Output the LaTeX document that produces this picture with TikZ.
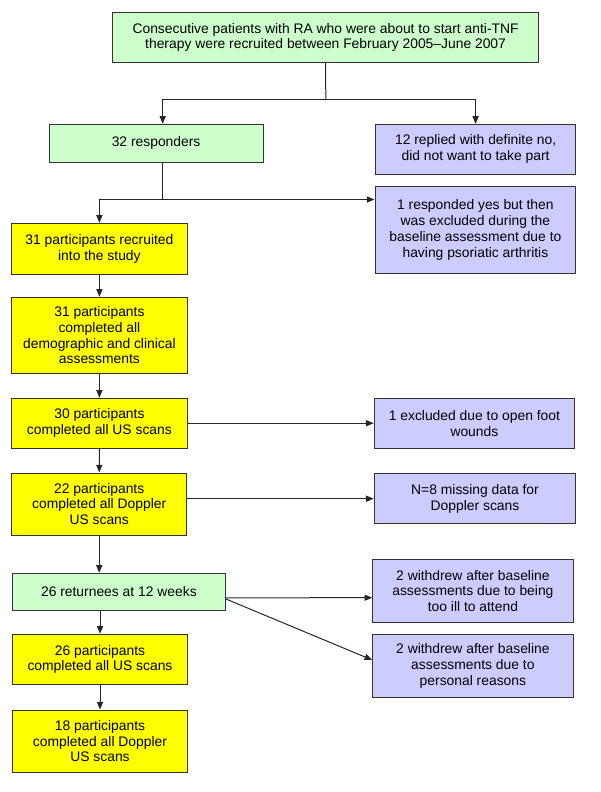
\documentclass[tikz,border=0pt]{standalone}
\usepackage{fontspec}
\setmainfont{Liberation Sans}
\usetikzlibrary{arrows.meta,calc}

\definecolor{verde}{HTML}{CCFFCC}
\definecolor{giallo}{HTML}{FFFF00}
\definecolor{lilla}{HTML}{CCCCFF}

\begin{document}
\begin{tikzpicture}[x=0.75pt,y=-0.75pt,
    box/.style 2 args={draw=black!80, line width=0.75pt, align=center, inner sep=0pt,
        font=\fontsize{10.4}{11.8}\selectfont,
        minimum width=#1*0.75pt, minimum height=#2*0.75pt},
    boxverde/.style 2 args={box={#1}{#2}, fill=verde},
    boxgiallo/.style 2 args={box={#1}{#2}, fill=giallo},
    boxlilla/.style 2 args={box={#1}{#2}, fill=lilla},
    linea/.style={draw=black!85, line width=0.75pt},
    freccia/.style={linea, -{Triangle[length=5.8pt,width=4.6pt]}}]
        \useasboundingbox (0,0) rectangle (600,792);

        % Disegna i riquadri
        \node[boxverde={425.8}{50}] (top) at (325.6,37.3)
            {Consecutive patients with RA who were about to start anti-TNF\\therapy were recruited between February 2005--June 2007};
        \node[boxverde={213.8}{38}] (resp) at (156.1,143.3) {32 responders};
        \node[boxlilla={200.4}{49.7}] (no12) at (475.6,149.2)
            {12 replied with definite no,\\did not want to take part};
        \node[boxlilla={200.8}{87.7}] (excl1) at (475.4,229.9)
            {1 responded yes but then\\was excluded during the\\baseline assessment due to\\having psoriatic arthritis};

        \node[boxgiallo={175.8}{50.7}] (rec31) at (99.4,248.7)
            {31 participants recruited\\into the study};
        \node[boxgiallo={175.8}{76}] (dem31) at (99.4,335.3)
            {31 participants\\completed all\\demographic and clinical\\assessments};
        \node[boxgiallo={175.8}{49.7}] (us30) at (99.4,423.2)
            {30 participants\\completed all US scans};
        \node[boxlilla={200.4}{49.7}] (open1) at (474.4,423.2)
            {1 excluded due to open foot\\wounds};
        \node[boxgiallo={175.4}{62}] (dop22) at (99.2,504)
            {22 participants\\completed all Doppler\\US scans};
        \node[boxlilla={201.6}{50}] (miss8) at (475,498.7)
            {N=8 missing data for\\Doppler scans};

        \node[boxverde={213.1}{37}] (ret26) at (118.9,591.8) {26 returnees at 12 weeks};
        \node[boxlilla={200.3}{63}] (ill2) at (472.9,590.8)
            {2 withdrew after baseline\\assessments due to being\\too ill to attend};
        \node[boxlilla={200.3}{62.7}] (pers2) at (472.9,665.7)
            {2 withdrew after baseline\\assessments due to\\personal reasons};
        \node[boxgiallo={175.4}{50.4}] (us26) at (100,659.5)
            {26 participants\\completed all US scans};
        \node[boxgiallo={175.4}{62.3}] (dop18) at (100,741.2)
            {18 participants\\completed all Doppler\\US scans};

        % Disegna le diramazioni
        \coordinate (split1) at (325.8,99);
        \coordinate (split2) at (162.7,199.5);
        \draw[linea] (top.south) -- (split1);
        \draw[freccia] (split1) -| ($(resp.north)+(6.6,0)$);
        \draw[freccia] (split1) -| (no12.north);
        \draw[linea] ($(resp.south)+(6.6,0)$) -- (split2);
        \draw[freccia] (split2) -| (rec31.north);
        \draw[freccia] (split2) -- (split2 -| excl1.west);

        % Frecce verticali
        \draw[freccia] (rec31) -- (dem31);
        \draw[freccia] (dem31) -- (us30);
        \draw[freccia] (us30) -- (dop22);
        \draw[freccia] (dop22.south) -- (dop22.south |- ret26.north);
        \draw[freccia] (us26.north |- ret26.south) -- (us26.north);
        \draw[freccia] (us26) -- (dop18);

        % Frecce verso destra
        \draw[freccia] (us30) -- (us30 -| open1.west);
        \draw[freccia] (dop22.east |- miss8) -- (miss8.west);
        \draw[freccia] ($(ret26.east)+(0,6)$) -- ($(ill2.west)+(0,6.9)$);
        \draw[freccia] ($(ret26.east)+(0,7.2)$) -- ($(pers2.west)+(0,-5.7)$);
    \end{tikzpicture}
\end{document}
